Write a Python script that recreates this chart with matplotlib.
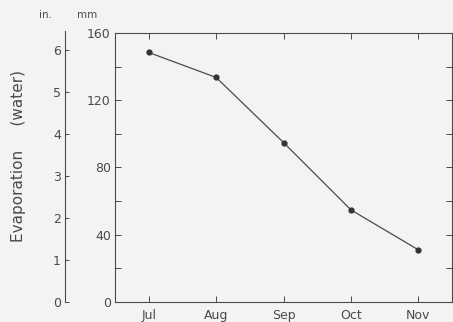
import matplotlib.pyplot as plt

months = ['Jul', 'Aug', 'Sep', 'Oct', 'Nov']
evap_mm = [148.5, 133.6, 94.8, 54.7, 30.9]

mm_ticks = [0, 40, 80, 120, 160]
in_ticks = [0, 1, 2, 3, 4, 5, 6]

ink = '#4a4a4a'
bg = '#f3f3f1'

fig = plt.figure(figsize=(4.53, 3.22), dpi=100, facecolor=bg)

# main axis (mm)
ax = fig.add_axes([0.254, 0.063, 0.744, 0.834], facecolor=bg)
x = list(range(len(months)))
ax.plot(x, evap_mm, color=ink, lw=0.9, marker='o', ms=3.5, mfc='#333333', mec='#333333')
ax.set_xlim(-0.5, 4.5)
ax.set_ylim(0, 160)
ax.set_xticks(x, months)
ax.set_yticks(mm_ticks)
ax.set_yticks(range(20, 160, 40), minor=True)
ax.tick_params(which='both', direction='in', top=True, right=True, color=ink,
               labelcolor=ink, labelsize=9, length=4, width=0.7, pad=3)
ax.tick_params(axis='x', pad=5)
for s in ax.spines.values():
    s.set_color(ink)
    s.set_linewidth(0.8)

# inches axis (scale drawn as in the original figure)
ax2 = fig.add_axes([0.1435, 0.063, 0.001, 0.84])
ax2.patch.set_visible(False)
ax2.set_ylim(0, 6.45)
ax2.set_yticks(in_ticks)
ax2.set_xticks([])
for k in ['top', 'right', 'bottom']:
    ax2.spines[k].set_visible(False)
ax2.spines['left'].set_color(ink)
ax2.spines['left'].set_linewidth(0.8)
ax2.tick_params(direction='in', color=ink, labelcolor=ink, labelsize=9,
                length=3, width=0.7, pad=3)

fig.text(0.04, 0.514, 'Evaporation     (water)', color=ink, fontsize=11,
         rotation=90, ha='center', va='center')
fig.text(0.10, 0.952, 'in.', color=ink, fontsize=7.5, ha='center', va='center')
fig.text(0.192, 0.952, 'mm', color=ink, fontsize=7.5, ha='center', va='center')

fig.savefig('out.png', dpi=100, facecolor=bg)
